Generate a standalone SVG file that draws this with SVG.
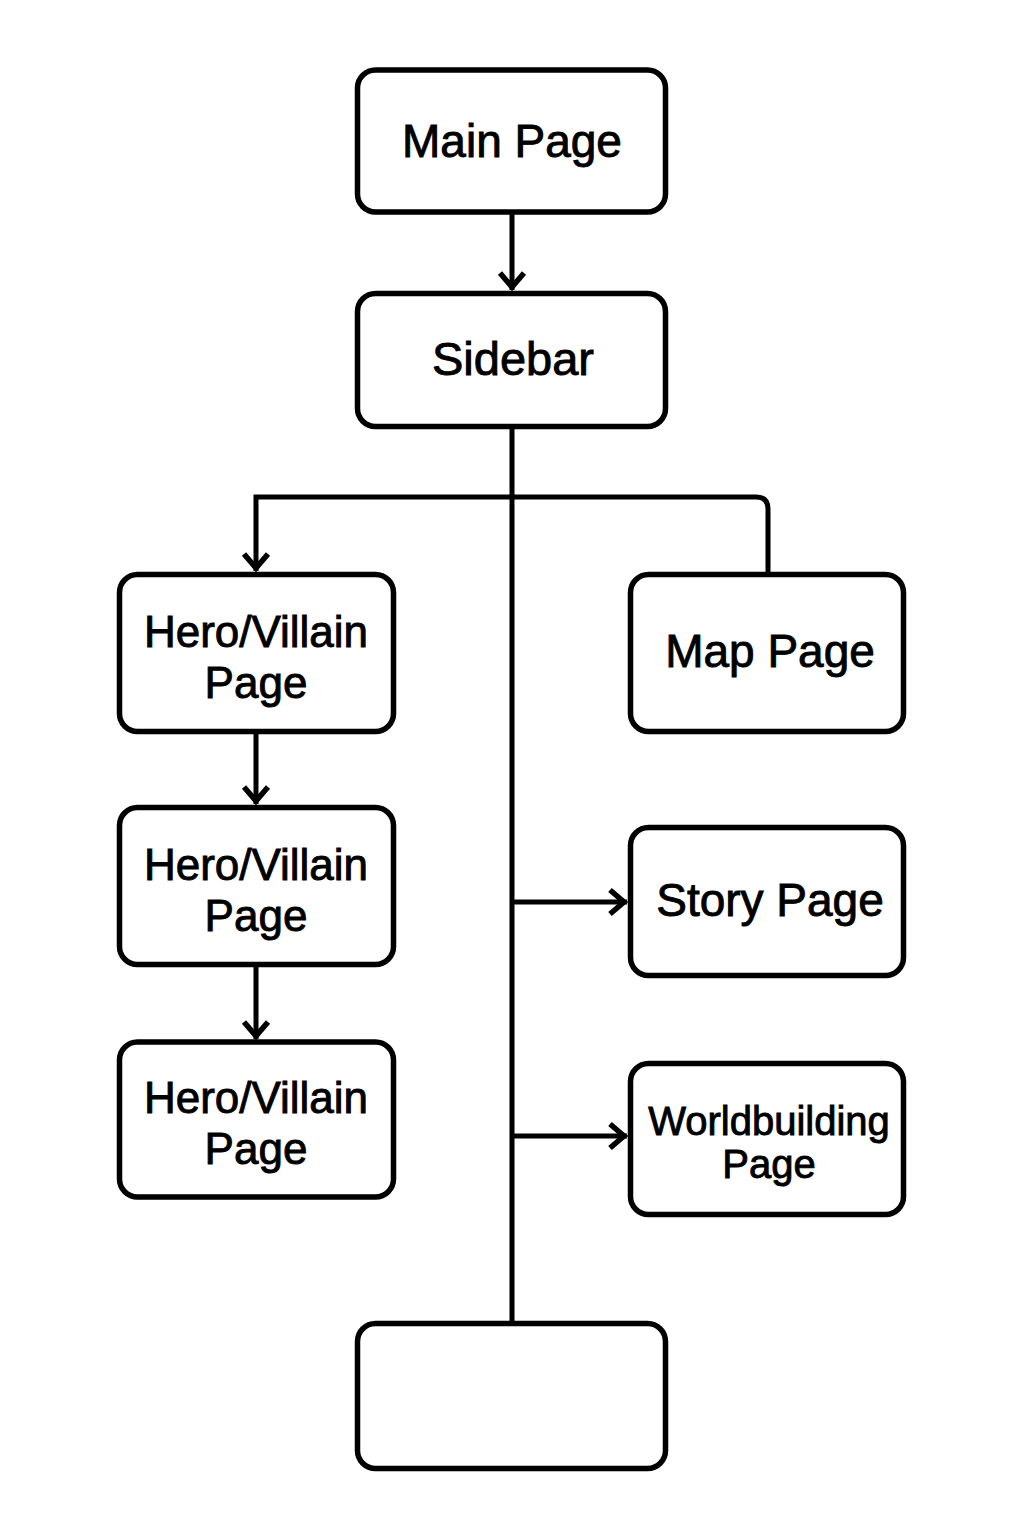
<svg xmlns="http://www.w3.org/2000/svg" width="1024" height="1536" viewBox="0 0 1024 1536">
<style>
.box{fill:#fff;stroke:#000;stroke-width:5.5}
.lbl{font-family:"Liberation Sans",Arial,sans-serif;fill:#000;stroke:#000;stroke-width:0.9;text-anchor:middle}
.con{fill:none;stroke:#000;stroke-width:5}
</style>
<defs>
<marker id="arr" markerUnits="userSpaceOnUse" markerWidth="34" markerHeight="34" viewBox="-24 -17 30 34" refX="0" refY="0" orient="auto">
<path d="M-17,-12 L-3,0 L-17,12" fill="none" stroke="#000" stroke-width="5.5" stroke-linejoin="miter" stroke-miterlimit="10"/>
</marker>
</defs>
<rect width="1024" height="1536" fill="#fff"/>
<g id="connectors">
<path class="con" d="M512,214 L512,290" marker-end="url(#arr)"/>
<path class="con" d="M512,428 L512,1321"/>
<path class="con" d="M512,497 L256,497 L256,571" marker-end="url(#arr)"/>
<path class="con" d="M512,497 L756,497 Q768,497 768,509 L768,572"/>
<path class="con" d="M256,733 L256,804" marker-end="url(#arr)"/>
<path class="con" d="M256,966 L256,1039" marker-end="url(#arr)"/>
<path class="con" d="M512,902 L627,902" marker-end="url(#arr)"/>
<path class="con" d="M512,1136 L627,1136" marker-end="url(#arr)"/>
</g>
<g id="main-page">
<rect class="box" x="357.5" y="70" width="308" height="142" rx="18"/>
<text class="lbl" x="512" y="157" font-size="46">Main Page</text>
</g>
<g id="sidebar">
<rect class="box" x="357.5" y="293.5" width="308" height="133" rx="18"/>
<text class="lbl" x="513" y="375" font-size="47">Sidebar</text>
</g>
<g id="hero-villain-1">
<rect class="box" x="119.5" y="574.5" width="274" height="157" rx="18"/>
<text class="lbl" x="256" y="647" font-size="44">Hero/Villain</text>
<text class="lbl" x="256" y="698" font-size="44">Page</text>
</g>
<g id="hero-villain-2">
<rect class="box" x="119.5" y="807.5" width="274" height="157" rx="18"/>
<text class="lbl" x="256" y="880" font-size="44">Hero/Villain</text>
<text class="lbl" x="256" y="931" font-size="44">Page</text>
</g>
<g id="hero-villain-3">
<rect class="box" x="119.5" y="1042" width="274" height="155" rx="18"/>
<text class="lbl" x="256" y="1113" font-size="44">Hero/Villain</text>
<text class="lbl" x="256" y="1164" font-size="44">Page</text>
</g>
<g id="map-page">
<rect class="box" x="630.5" y="574.5" width="273" height="157" rx="18"/>
<text class="lbl" x="770" y="667" font-size="46">Map Page</text>
</g>
<g id="story-page">
<rect class="box" x="630.5" y="827.5" width="273" height="148" rx="18"/>
<text class="lbl" x="770" y="916" font-size="46">Story Page</text>
</g>
<g id="worldbuilding-page">
<rect class="box" x="630.5" y="1063.5" width="273" height="151" rx="18"/>
<text class="lbl" x="769" y="1135" font-size="40">Worldbuilding</text>
<text class="lbl" x="769" y="1178" font-size="40">Page</text>
</g>
<g id="empty-box">
<rect class="box" x="357.5" y="1323.5" width="308" height="145" rx="18"/>
</g>
</svg>
